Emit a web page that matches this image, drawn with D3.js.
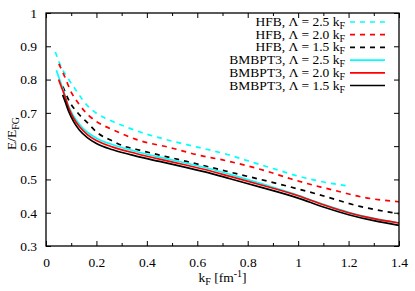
<!DOCTYPE html>
<html>
<head>
<meta charset="utf-8">
<script src="https://cdn.jsdelivr.net/npm/d3@7"></script>
<style>
  body { margin: 0; background: #fff; }
  svg { display: block; }
  text { font-family: "Liberation Serif", "Times New Roman", serif; fill: #000; }
</style>
</head>
<body>
<div id="chart"></div>
<script>
// ticks
const xTicks = [0, 0.2, 0.4, 0.6, 0.8, 1, 1.2, 1.4];
const xTickLabels = ["0", "0.2", "0.4", "0.6", "0.8", "1", "1.2", "1.4"];
const xMinorTicks = [0.1, 0.3, 0.5, 0.7, 0.9, 1.1, 1.3];
const yTicks = [0.3, 0.4, 0.5, 0.6, 0.7, 0.8, 0.9, 1];
const yTickLabels = ["0.3", "0.4", "0.5", "0.6", "0.7", "0.8", "0.9", "1"];

// HFB curves (dashed)
const kHFB25 = [0.037, 0.06, 0.087, 0.127, 0.16, 0.2, 0.25, 0.32, 0.4, 0.47, 0.6, 0.72, 0.8, 0.9, 1.0, 1.07, 1.19];
const eHFB25 = [0.883, 0.838, 0.804, 0.759, 0.725, 0.699, 0.679, 0.657, 0.636, 0.621, 0.597, 0.575, 0.556, 0.533, 0.51, 0.497, 0.481];

const kHFB20 = [0.051, 0.074, 0.097, 0.133, 0.17, 0.2, 0.26, 0.32, 0.37, 0.485, 0.6, 0.71, 0.87, 0.97, 1.09, 1.15, 1.26, 1.4];
const eHFB20 = [0.847, 0.809, 0.767, 0.724, 0.692, 0.674, 0.651, 0.631, 0.617, 0.597, 0.574, 0.557, 0.526, 0.502, 0.477, 0.466, 0.446, 0.433];

const kHFB15 = [0.067, 0.093, 0.127, 0.166, 0.206, 0.26, 0.305, 0.36, 0.53, 0.65, 0.73, 0.92, 1.08, 1.245, 1.4];
const eHFB15 = [0.779, 0.734, 0.699, 0.669, 0.639, 0.617, 0.601, 0.59, 0.559, 0.537, 0.522, 0.487, 0.455, 0.419, 0.397];

// BMBPT3 curves (solid)
const kBM25 = [0.041, 0.055, 0.067, 0.087, 0.11, 0.133, 0.165, 0.2, 0.265, 0.357, 0.45, 0.55, 0.65, 0.73, 0.85, 1.0, 1.1, 1.2, 1.3, 1.4];
const eBM25 = [0.828, 0.798, 0.772, 0.724, 0.69, 0.665, 0.641, 0.624, 0.604, 0.584, 0.567, 0.55, 0.532, 0.515, 0.488, 0.452, 0.425, 0.401, 0.383, 0.369];

const kBM20 = [0.05, 0.06, 0.075, 0.09, 0.11, 0.133, 0.165, 0.2, 0.265, 0.357, 0.45, 0.55, 0.65, 0.73, 0.85, 1.0, 1.1, 1.2, 1.3, 1.4];
const eBM20 = [0.8, 0.78, 0.75, 0.715, 0.683, 0.658, 0.634, 0.617, 0.597, 0.578, 0.561, 0.544, 0.526, 0.509, 0.484, 0.451, 0.424, 0.4, 0.382, 0.369];

const kBM15 = [0.066, 0.075, 0.09, 0.11, 0.133, 0.165, 0.2, 0.265, 0.357, 0.45, 0.55, 0.65, 0.73, 0.85, 1.0, 1.1, 1.2, 1.3, 1.4];
const eBM15 = [0.754, 0.736, 0.704, 0.673, 0.648, 0.625, 0.608, 0.589, 0.57, 0.554, 0.537, 0.519, 0.502, 0.477, 0.444, 0.417, 0.394, 0.376, 0.362];

const series = [
    { name: "HFB", lam: "2.5", k: kHFB25, e: eHFB25, color: "#00ffff", dash: "5,5" },
    { name: "HFB", lam: "2.0", k: kHFB20, e: eHFB20, color: "#ff0000", dash: "5,5" },
    { name: "HFB", lam: "1.5", k: kHFB15, e: eHFB15, color: "#000000", dash: "5,5" },
    { name: "BMBPT3", lam: "2.5", k: kBM25, e: eBM25, color: "#00ffff", dash: null },
    { name: "BMBPT3", lam: "2.0", k: kBM20, e: eBM20, color: "#ff0000", dash: null },
    { name: "BMBPT3", lam: "1.5", k: kBM15, e: eBM15, color: "#000000", dash: null }
];

const width = 415, height = 291;
const margin = { left: 46, right: 16, top: 13, bottom: 45 };
const W = width - margin.left - margin.right;
const H = height - margin.top - margin.bottom;
const fs = "13.5px", fsSub = "10px";

const svg = d3.select("#chart").append("svg")
    .attr("width", width)
    .attr("height", height);

const g = svg.append("g").attr("transform", `translate(${margin.left},${margin.top})`);

const x = d3.scaleLinear().domain([0, 1.4]).range([0, W]);
const y = d3.scaleLinear().domain([0.3, 1]).range([H, 0]);

// Curves
const line = d3.line()
    .x(d => x(d[0]))
    .y(d => y(d[1]))
    .curve(d3.curveMonotoneX);

series.forEach(s => {
    g.append("path")
        .datum(s.k.map((k, i) => [k, s.e[i]]))
        .attr("d", line)
        .attr("fill", "none")
        .attr("stroke", s.color)
        .attr("stroke-width", 1.7)
        .attr("stroke-dasharray", s.dash);
});

// Axes (ticks pointing inward, mirrored)
function styleAxis(sel) {
    sel.select(".domain").remove();
    sel.selectAll("line").attr("stroke", "#000").attr("stroke-width", 1);
    sel.selectAll("text").style("font-family", "'Liberation Serif', serif").style("font-size", fs);
}

g.append("g").attr("transform", `translate(0,${H})`)
    .call(d3.axisBottom(x).tickValues(xTicks).tickSize(-5).tickPadding(11)
        .tickFormat((d, i) => xTickLabels[i]))
    .call(styleAxis);
g.append("g").attr("transform", `translate(0,${H})`)
    .call(d3.axisBottom(x).tickValues(xMinorTicks).tickSize(-3).tickFormat(""))
    .call(styleAxis);
g.append("g")
    .call(d3.axisTop(x).tickValues(xTicks).tickSize(-5).tickFormat(""))
    .call(styleAxis);
g.append("g")
    .call(d3.axisTop(x).tickValues(xMinorTicks).tickSize(-3).tickFormat(""))
    .call(styleAxis);
g.append("g")
    .call(d3.axisLeft(y).tickValues(yTicks).tickSize(-5).tickPadding(9)
        .tickFormat((d, i) => yTickLabels[i]))
    .call(styleAxis);
g.append("g").attr("transform", `translate(${W},0)`)
    .call(d3.axisRight(y).tickValues(yTicks).tickSize(-5).tickFormat(""))
    .call(styleAxis);

// Frame
g.append("rect")
    .attr("width", W).attr("height", H)
    .attr("fill", "none").attr("stroke", "#000").attr("stroke-width", 1.3);

// Legend
const legend = g.append("g");
series.forEach((s, i) => {
    const ly = 9 + i * 12.7;
    const t = legend.append("text")
        .attr("x", 299).attr("y", ly + 4)
        .attr("text-anchor", "end")
        .style("font-size", fs);
    t.append("tspan").text(`${s.name}, \u039B = ${s.lam} k`);
    t.append("tspan").attr("dy", 3).style("font-size", fsSub).text("F");
    legend.append("line")
        .attr("x1", 304).attr("x2", 339)
        .attr("y1", ly).attr("y2", ly)
        .attr("stroke", s.color)
        .attr("stroke-width", 1.7)
        .attr("stroke-dasharray", s.dash);
});

// Axis labels
const xl = svg.append("text")
    .attr("x", margin.left + W / 2).attr("y", 282)
    .attr("text-anchor", "middle")
    .style("font-size", fs);
xl.append("tspan").text("k");
xl.append("tspan").attr("dy", 3).style("font-size", fsSub).text("F");
xl.append("tspan").attr("dy", -3).text(" [fm");
xl.append("tspan").attr("dy", -5).style("font-size", fsSub).text("-1");
xl.append("tspan").attr("dy", 5).text("]");

const yl = svg.append("text")
    .attr("transform", `translate(16,${margin.top + H / 2 + 4}) rotate(-90)`)
    .attr("text-anchor", "middle")
    .style("font-size", fs);
yl.append("tspan").text("E/E");
yl.append("tspan").attr("dy", 3).style("font-size", fsSub).text("FG");
</script>
</body>
</html>
